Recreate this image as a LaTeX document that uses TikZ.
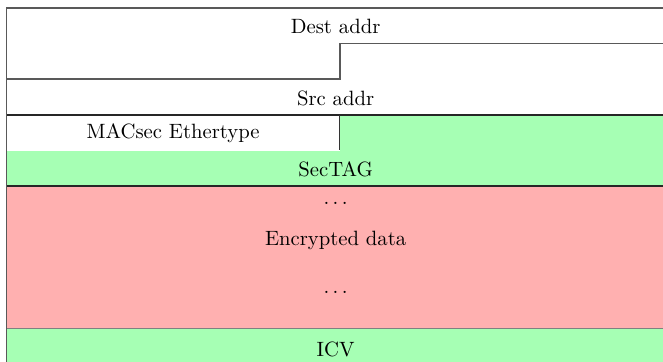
\documentclass[tikz,border=0pt]{standalone}
\usepackage{tikz}
\usetikzlibrary{positioning}
\definecolor{secgreen}{HTML}{A6FFB4}
\definecolor{encred}{HTML}{FFB0B0}

\begin{document}
\begin{tikzpicture}[
  lbl/.style={inner sep=1pt, font=\normalsize},
  frameline/.style={draw=black!65, line width=0.6pt}]
\useasboundingbox (0,0) rectangle (11.26,6.147);

% Coloured fields
\fill[secgreen] (5.773,4.194) rectangle (11.26,3.583);
\fill[secgreen] (0.11,3.583) rectangle (11.26,2.988);
\fill[encred] (0.11,2.988) rectangle (11.26,0.56);
\fill[secgreen] (0.11,0.56) rectangle (11.26,0);

% Dest addr (split over two rows)
\draw[frameline] (0.11,6.011) -- (11.26,6.011);
\draw[frameline] (0.11,4.805) -- (5.773,4.805) -- (5.773,5.408) -- (11.26,5.408);
\node[lbl] (dest) at (5.70,5.705) {Dest addr};

% Src addr
\node[lbl] (src) at (5.70,4.483) {Src addr};
\draw[draw=black!85, line width=0.6pt] (0.11,4.194) -- (11.26,4.194);

% MACsec Ethertype + start of SecTAG
\node[lbl] (etype) at (2.94,3.888) {MACsec Ethertype};
\draw[draw=black!80, line width=0.5pt] (5.773,4.194) -- (5.773,3.60);
\node[lbl] (sectag) at (5.70,3.277) {SecTAG};
\draw[draw=black!85, line width=1pt] (0.11,2.988) -- (11.26,2.988);

% Encrypted data
\node[lbl] (dotsA) at (5.70,2.70) {$\ldots$};
\node[lbl] (enc) at (5.70,2.072) {Encrypted data};
\node[lbl] (dotsB) at (5.70,1.189) {$\ldots$};
\draw[draw=black!50, line width=0.5pt] (0.11,0.56) -- (11.26,0.56);

% ICV
\node[lbl] (icv) at (5.70,0.221) {ICV};

% Left edge
\draw[frameline] (0.11,6.011) -- (0.11,0);
\end{tikzpicture}
\end{document}
